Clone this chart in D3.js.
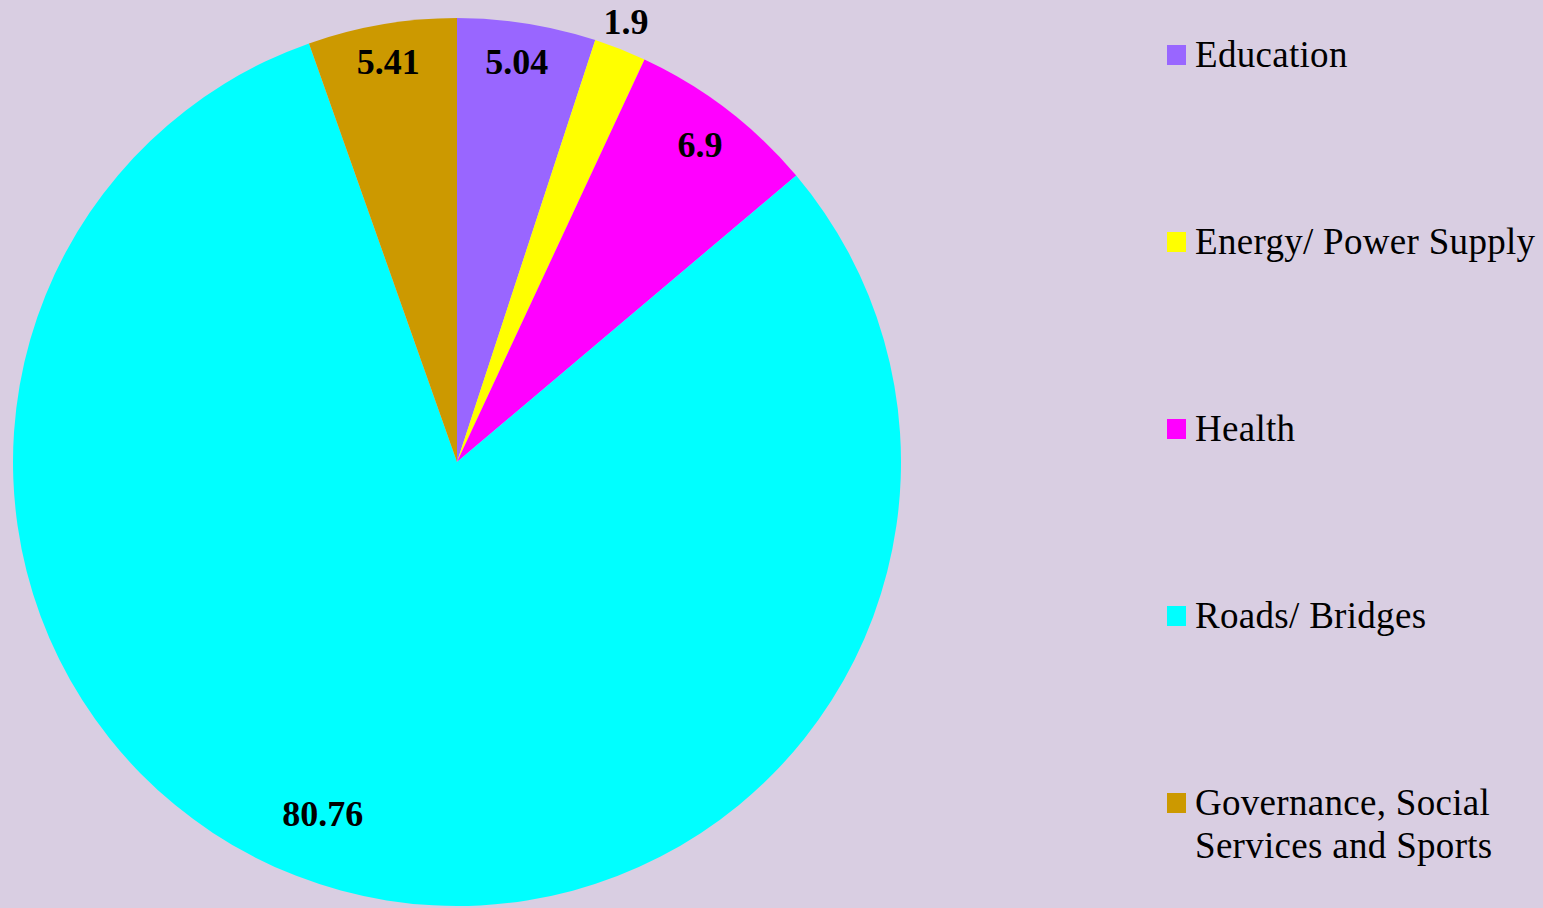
<!DOCTYPE html>
<html>
<head>
<meta charset="utf-8">
<script src="https://cdn.jsdelivr.net/npm/d3@7"></script>
<style>
  html, body { margin: 0; padding: 0; background: #d9cee2; }
  svg { display: block; }
</style>
</head>
<body>
<svg id="chart" width="1543" height="908"></svg>
<script>
const categories = ["Education", "Energy/ Power Supply", "Health", "Roads/ Bridges", "Governance, Social Services and Sports"];
const values = [5.04, 1.9, 6.9, 80.76, 5.41];
const valueLabels = ["5.04", "1.9", "6.9", "80.76", "5.41"];
const legendLines = [["Education"], ["Energy/ Power Supply"], ["Health"], ["Roads/ Bridges"], ["Governance, Social", "Services and Sports"]];
const colors = ["#9966ff", "#ffff00", "#ff00ff", "#00ffff", "#cc9900"];

const W = 1543, H = 908;
const cx = 457, cy = 462, R = 444;

const svg = d3.select("#chart");
svg.append("rect").attr("width", W).attr("height", H).attr("fill", "#d9cee2");

const pie = d3.pie().sort(null).value(d => d)(values);
const arc = d3.arc().innerRadius(0).outerRadius(R);
const color = d3.scaleOrdinal().domain(categories).range(colors);

const g = svg.append("g").attr("transform", `translate(${cx},${cy})`);
g.selectAll("path.slice").data(pie).join("path")
  .attr("class", "slice")
  .attr("d", arc)
  .attr("fill", (d, i) => color(categories[i]));

// label placement styles (radius, angular nudge in radians)
const labelStyle = [
  { r: 405, da: -0.01 },
  { r: 472, da: -0.01 },
  { r: 400, da: 0 },
  { r: 376, da: 0.10 },
  { r: 406, da: 0 }
];
g.selectAll("text.val").data(pie).join("text")
  .attr("class", "val")
  .attr("x", (d, i) => labelStyle[i].r * Math.sin((d.startAngle + d.endAngle) / 2 + labelStyle[i].da))
  .attr("y", (d, i) => -labelStyle[i].r * Math.cos((d.startAngle + d.endAngle) / 2 + labelStyle[i].da))
  .attr("dy", "0.35em")
  .attr("text-anchor", "middle")
  .attr("font-family", "'Liberation Serif', 'Times New Roman', serif")
  .attr("font-weight", "bold")
  .attr("font-size", 36)
  .attr("fill", "#000")
  .text((d, i) => valueLabels[i]);

// legend
const ly = d3.scalePoint().domain(categories).range([55, 803]);
const leg = svg.append("g").selectAll("g").data(categories).join("g")
  .attr("transform", d => `translate(1167,${ly(d)})`);
leg.append("rect")
  .attr("x", 0).attr("y", -10).attr("width", 19).attr("height", 20)
  .attr("fill", d => color(d));
leg.append("text")
  .attr("x", 28).attr("y", 12)
  .attr("font-family", "'Liberation Serif', 'Times New Roman', serif")
  .attr("font-size", 37)
  .attr("letter-spacing", 0.3)
  .attr("fill", "#000")
  .selectAll("tspan").data((d, i) => legendLines[i]).join("tspan")
  .attr("x", 28)
  .attr("dy", (d, j) => j === 0 ? 0 : 43)
  .text(d => d);
</script>
</body>
</html>
